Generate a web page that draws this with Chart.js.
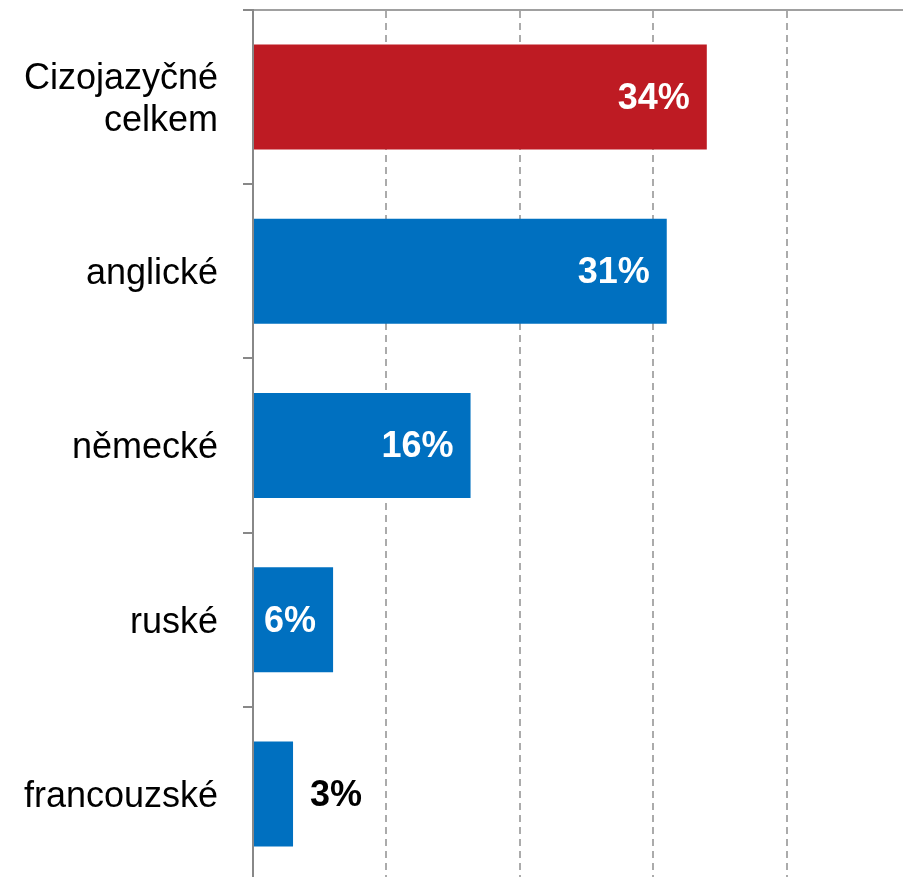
<!DOCTYPE html>
<html>
<head>
<meta charset="utf-8">
<script src="https://cdn.jsdelivr.net/npm/chart.js@4"></script>
<style>
    html, body { margin: 0; padding: 0; background: #fff; width: 903px; height: 877px; overflow: hidden; }
    /* the plot runs a few px past the bottom edge in the original */
    #wrap { width: 903px; height: 881px; }
</style>
</head>
<body>
<div id="wrap"><canvas id="chart"></canvas></div>
<script>
// data
const categories = [['Cizojazyčné', 'celkem'], 'anglické', 'německé', 'ruské', 'francouzské'];
const values = [34, 31, 16.3, 6, 3];
const barColors = ['#BE1B23', '#0070C0', '#0070C0', '#0070C0', '#0070C0'];
// labels that sit outside the bar (too short)
const outsideLabel = [false, false, false, false, true];

const FONT = "'Liberation Sans', Arial, sans-serif";

// draws the percentage labels at the end of each bar
const valueLabels = {
    id: 'valueLabels',
    afterDatasetsDraw(chart) {
        const ctx = chart.ctx;
        const meta = chart.getDatasetMeta(0);
        ctx.save();
        ctx.font = 'bold 36px ' + FONT;
        ctx.textBaseline = 'middle';
        meta.data.forEach((bar, i) => {
            const text = Math.round(values[i]) + '%';
            if (outsideLabel[i]) {
                ctx.fillStyle = '#000';
                ctx.textAlign = 'left';
                ctx.fillText(text, bar.x + 17, bar.y + 2);
            } else {
                ctx.fillStyle = '#fff';
                ctx.textAlign = 'right';
                ctx.fillText(text, bar.x - 17, bar.y + 2);
            }
        });
        ctx.restore();
    }
};

new Chart(document.getElementById('chart'), {
    type: 'bar',
    data: {
        labels: categories,
        datasets: [{
            data: values,
            backgroundColor: barColors,
            barPercentage: 0.603,
            categoryPercentage: 1
        }]
    },
    options: {
        indexAxis: 'y',
        responsive: true,
        maintainAspectRatio: false,
        animation: false,
        layout: { padding: { top: 10, right: 0, bottom: 0, left: 0 } },
        scales: {
            x: {
                position: 'top',
                min: 0,
                max: 48.7,
                ticks: { display: false, stepSize: 10 },
                grid: {
                    drawTicks: false,
                    lineWidth: 2,
                    color: (c) => (c.tick && c.tick.value > 0 && c.tick.value % 10 === 0) ? '#ababab' : 'rgba(0,0,0,0)',
                    tickBorderDash: [7, 5]
                },
                border: { display: true, color: '#a0a0a0', width: 2, dash: [7, 5] }
            },
            y: {
                afterFit(scale) {
                    scale.width = 253;
                    scale.paddingTop = 0;
                    scale.paddingBottom = 0;
                },
                ticks: {
                    color: '#000',
                    padding: 25,
                    labelOffset: 3,
                    font: { family: FONT, size: 36, lineHeight: 1.17 }
                },
                grid: {
                    offset: true,
                    drawOnChartArea: false,
                    tickLength: 10,
                    lineWidth: 2,
                    color: '#888'
                },
                border: { display: true, color: '#888', width: 2 }
            }
        },
        plugins: {
            legend: { display: false },
            tooltip: { enabled: false }
        }
    },
    plugins: [valueLabels]
});
</script>
</body>
</html>
